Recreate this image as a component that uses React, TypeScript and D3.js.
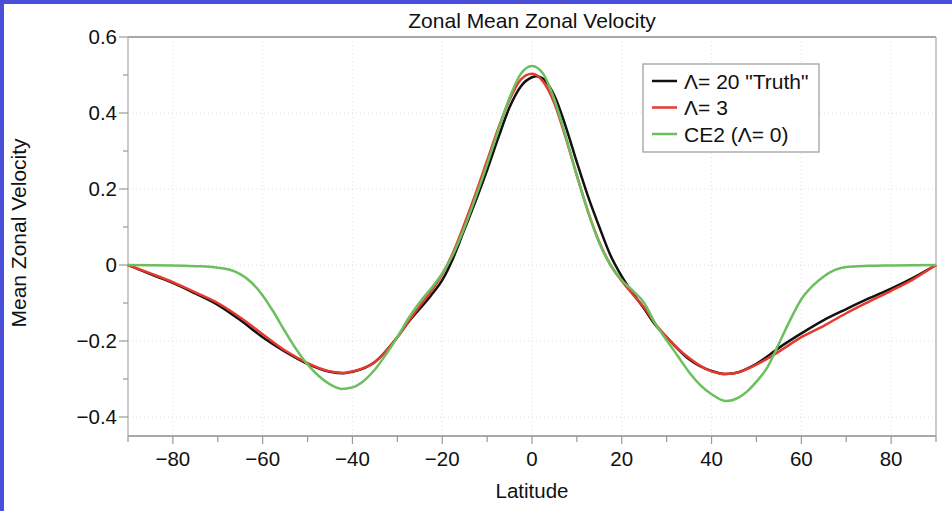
import React from "react";
import * as d3 from "d3";

const latTruth = [-90,-85,-80,-75,-70,-65,-60,-55,-50,-45,-42,-40,-35,-30,-27.5,-25,-22.5,-20,-17.5,-15,-12.5,-10,-7.5,-5,-2.5,0,1,2.5,5,7.5,10,12.5,15,17.5,20,22.5,25,27.5,30,35,40,43,45,50,55,60,65,70,75,80,85,90];
const valTruth = [0,-0.024,-0.047,-0.075,-0.105,-0.145,-0.19,-0.228,-0.26,-0.281,-0.285,-0.281,-0.255,-0.19,-0.15,-0.115,-0.08,-0.04,0.02,0.095,0.17,0.25,0.335,0.415,0.47,0.494,0.497,0.49,0.445,0.365,0.27,0.18,0.1,0.025,-0.03,-0.075,-0.115,-0.158,-0.19,-0.248,-0.279,-0.287,-0.285,-0.26,-0.218,-0.18,-0.145,-0.116,-0.088,-0.062,-0.033,0];

const latL3 = [-90,-85,-80,-75,-70,-65,-60,-55,-50,-45,-42,-40,-35,-30,-27.5,-25,-22.5,-20,-17.5,-15,-12.5,-10,-7.5,-5,-2.5,0,2.5,5,7.5,10,12.5,15,17.5,20,22.5,25,27.5,30,35,40,43,45,50,55,60,65,70,75,80,85,90];
const valL3 = [0,-0.022,-0.045,-0.072,-0.1,-0.138,-0.182,-0.225,-0.258,-0.28,-0.284,-0.28,-0.255,-0.19,-0.148,-0.108,-0.07,-0.025,0.035,0.11,0.19,0.275,0.36,0.435,0.488,0.503,0.482,0.425,0.335,0.235,0.14,0.06,0.0,-0.042,-0.078,-0.112,-0.155,-0.19,-0.245,-0.28,-0.287,-0.285,-0.262,-0.228,-0.19,-0.16,-0.127,-0.097,-0.068,-0.037,0];

const latCE2 = [-90,-80,-75,-70,-67.5,-65,-62.5,-60,-57.5,-55,-52.5,-50,-47.5,-45,-42.5,-40,-37.5,-35,-32.5,-30,-27.5,-25,-22.5,-20,-17.5,-15,-12.5,-10,-7.5,-5,-2.5,0,2.5,5,7.5,10,12.5,15,17.5,20,22.5,25,27.5,30,32.5,35,37.5,40,43.3,46,48,50,52.5,55,57.5,60,62.5,65,67.5,70,75,80,90];
const valCE2 = [0,-0.001,-0.003,-0.007,-0.012,-0.024,-0.046,-0.08,-0.125,-0.175,-0.222,-0.262,-0.292,-0.314,-0.326,-0.322,-0.305,-0.275,-0.235,-0.19,-0.14,-0.098,-0.062,-0.022,0.03,0.1,0.18,0.265,0.355,0.44,0.503,0.524,0.503,0.435,0.34,0.235,0.14,0.058,0.0,-0.04,-0.068,-0.1,-0.155,-0.198,-0.24,-0.282,-0.316,-0.34,-0.358,-0.349,-0.332,-0.307,-0.268,-0.207,-0.145,-0.09,-0.055,-0.03,-0.013,-0.005,-0.002,-0.001,0];

const seriesNames = ['\u039B= 20 "Truth"', "\u039B= 3", "CE2 (\u039B= 0)"];
const seriesColors = ["#111111", "#e8392e", "#6cbf5f"];

const xMajor = [-80, -60, -40, -20, 0, 20, 40, 60, 80];
const xMinor = [-90, -70, -50, -30, -10, 10, 30, 50, 70, 90];
const yMajor = [0.6, 0.4, 0.2, 0, -0.2, -0.4];
const yMinor = [0.5, 0.3, 0.1, -0.1, -0.3];

const W = 952, H = 511;
const L = 128, R = 936, T = 37, B = 436;
const FONT = "'Liberation Sans', Arial, Helvetica, sans-serif";

export default function App() {
  const x = d3.scaleLinear().domain([-90, 90]).range([L, R]);
  const y = d3.scaleLinear().domain([-0.45, 0.6]).range([B, T]);
  const line = d3
    .line<[number, number]>()
    .x((d) => x(d[0]))
    .y((d) => y(d[1]))
    .curve(d3.curveMonotoneX);
  const series = [
    latTruth.map((l, i) => [l, valTruth[i]] as [number, number]),
    latL3.map((l, i) => [l, valL3[i]] as [number, number]),
    latCE2.map((l, i) => [l, valCE2[i]] as [number, number]),
  ];
  const fmtY = (v: number) => (v === 0 ? "0" : (v < 0 ? "\u2212" : "") + Math.abs(v).toFixed(1));
  const fmtX = (v: number) => (v < 0 ? "\u2212" + Math.abs(v) : String(v));

  const lgX = 643, lgY = 64, lgW = 176, lgH = 88;
  return (
    <div style={{ position: "absolute", left: 0, top: 0 }}>
      <svg width={W} height={H} style={{ display: "block", background: "#fff" }} fontFamily={FONT}>
        <rect x={0} y={0} width={W} height={4} fill="#4a4fd9" />
        <rect x={0} y={0} width={4} height={H} fill="#4a4fd9" />
        <text x={532} y={28} textAnchor="middle" fontSize={21} fill="#111">Zonal Mean Zonal Velocity</text>
        {/* grid */}
        {xMajor.map((v) => (
          <line key={"gx" + v} x1={x(v)} x2={x(v)} y1={T} y2={B} stroke="#dddddd" strokeDasharray="1,3" />
        ))}
        {yMajor.map((v) => (
          <line key={"gy" + v} x1={L} x2={R} y1={y(v)} y2={y(v)} stroke="#dddddd" strokeDasharray="1,3" />
        ))}
        {/* frame */}
        <line x1={L} x2={R} y1={T} y2={T} stroke="#a8a8a8" strokeWidth={2} />
        <line x1={R} x2={R} y1={T} y2={B} stroke="#a8a8a8" strokeWidth={1.2} />
        <line x1={L} x2={L} y1={T} y2={B} stroke="#a8a8a8" strokeWidth={1.2} />
        <line x1={L} x2={R} y1={B} y2={B} stroke="#a8a8a8" strokeWidth={2} />
        {/* ticks */}
        {xMajor.map((v) => (
          <line key={"tx" + v} x1={x(v)} x2={x(v)} y1={B} y2={B + 8} stroke="#999" strokeWidth={1.2} />
        ))}
        {xMinor.map((v) => (
          <line key={"mx" + v} x1={x(v)} x2={x(v)} y1={B} y2={B + 6} stroke="#999" strokeWidth={1.2} />
        ))}
        {yMajor.map((v) => (
          <line key={"ty" + v} x1={L - 9} x2={L} y1={y(v)} y2={y(v)} stroke="#999" strokeWidth={1.2} />
        ))}
        {yMinor.map((v) => (
          <line key={"my" + v} x1={L - 5} x2={L} y1={y(v)} y2={y(v)} stroke="#999" strokeWidth={1.2} />
        ))}
        {xMajor.map((v) => (
          <text key={"lx" + v} x={x(v)} y={466} textAnchor="middle" fontSize={20.5} fill="#111">{fmtX(v)}</text>
        ))}
        {yMajor.map((v) => (
          <text key={"ly" + v} x={117} y={y(v) + 7} textAnchor="end" fontSize={20.5} fill="#111">{fmtY(v)}</text>
        ))}
        <text x={532} y={498} textAnchor="middle" fontSize={20.5} fill="#111">Latitude</text>
        <text transform={`translate(26,233) rotate(-90)`} textAnchor="middle" fontSize={21} fill="#111">Mean Zonal Velocity</text>
        {/* curves */}
        {series.map((s, i) => (
          <path key={"s" + i} d={line(s) || ""} fill="none" stroke={seriesColors[i]} strokeWidth={2.5} strokeLinejoin="round" />
        ))}
        {/* legend */}
        <rect x={lgX} y={lgY} width={lgW} height={lgH} fill="#fff" stroke="#999" strokeWidth={1.2} />
        {seriesNames.map((n, i) => (
          <g key={"lg" + i} transform={`translate(0,${81 + i * 26.5})`}>
            <line x1={652} x2={677} y1={0} y2={0} stroke={seriesColors[i]} strokeWidth={2.5} />
            <text x={684} y={7.5} fontSize={21} fill="#111">{n}</text>
          </g>
        ))}
      </svg>
    </div>
  );
}
